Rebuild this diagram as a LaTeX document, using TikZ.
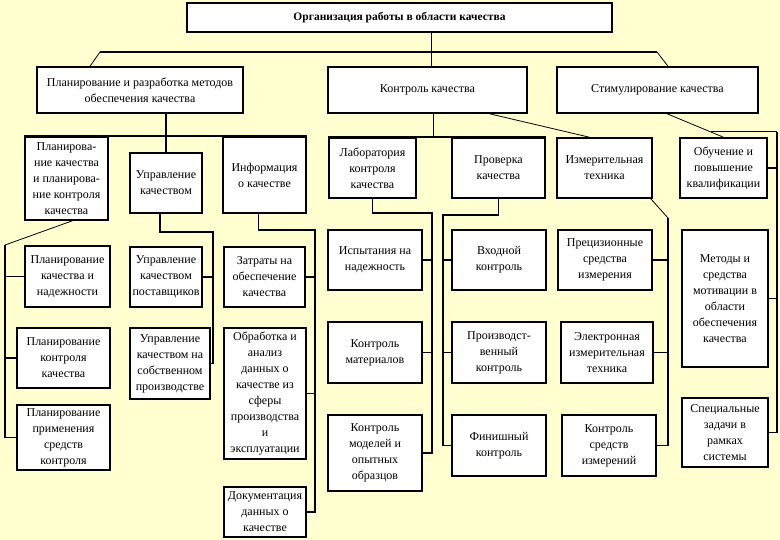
\documentclass[tikz,border=0pt]{standalone}
\usepackage{fontspec}
\setmainfont{Liberation Serif}
\usetikzlibrary{positioning,calc}
\definecolor{paper}{RGB}{255,255,208}
\tikzset{
  blk/.style={rectangle,draw=black,line width=1.5pt,fill=white,
              align=center,inner sep=1pt,font=\fontsize{12}{16}\selectfont},
  sz/.style 2 args={minimum width=#1,minimum height=#2},
  link/.style={line width=1.5pt},
  slant/.style={line width=0.8pt},
}
\begin{document}
\begin{tikzpicture}[x=1pt, y=-1pt]
\fill[paper] (0,0) rectangle (780,540);

% top and first level
\node[blk,sz={425pt}{29pt},font=\fontsize{11.5}{16}\selectfont\bfseries] (top) at (399.5,17.5) {Организация работы в области качества};
\node[blk,sz={206pt}{46pt}] (plan) at (140,90) {Планирование и разработка методов\\обеспечения качества};
\node[blk,sz={199pt}{46pt}] (ctrl) at (427.5,90) {Контроль качества};
\node[blk,sz={201pt}{46pt}] (stim) at (657.5,90) {Стимулирование качества};

% planning branch
\node[blk,sz={83pt}{83pt}] (p1) at (66.5,178.5) {Планирова-\\ние качества\\и планирова-\\ние контроля\\качества};
\node[blk,sz={72pt}{60pt}] (u1) at (166,183) {Управление\\качеством};
\node[blk,sz={83pt}{76pt}] (i1) at (264.5,175) {Информация\\о качестве};
\node[blk,sz={85pt}{61pt}] (p2) at (67.5,276.5) {Планирование\\качества и\\надежности};
\node[blk,sz={93pt}{60pt}] (p3) at (63.5,358) {Планирование\\контроля\\качества};
\node[blk,sz={93pt}{65pt}] (p4) at (63.5,437.5) {Планирование\\применения\\средств\\контроля};
\node[blk,sz={72pt}{60pt}] (u2) at (166,277) {Управление\\качеством\\поставщиков};
\node[blk,sz={80pt}{71pt}] (u3) at (170,363.5) {Управление\\качеством на\\собственном\\производстве};
\node[blk,sz={81pt}{60pt}] (i2) at (264.5,277) {Затраты на\\обеспечение\\качества};
\node[blk,sz={82pt}{131pt}] (i3) at (265,393.5) {Обработка и\\анализ\\данных о\\качестве из\\сферы\\производства\\и\\эксплуатации};
\node[blk,sz={82pt}{50pt}] (i4) at (265,512) {Документация\\данных о\\качестве};

% control branch
\node[blk,sz={87pt}{60pt}] (l1) at (372.5,168) {Лаборатория\\контроля\\качества};
\node[blk,sz={93pt}{60pt}] (c1) at (498.5,168) {Проверка\\качества};
\node[blk,sz={95pt}{60pt}] (m1) at (604.5,168) {Измерительная\\техника};
\node[blk,sz={94pt}{60pt}] (l2) at (375,260) {Испытания на\\надежность};
\node[blk,sz={94pt}{61pt}] (l3) at (375,352.5) {Контроль\\материалов};
\node[blk,sz={94pt}{76pt}] (l4) at (375,453) {Контроль\\моделей и\\опытных\\образцов};
\node[blk,sz={94pt}{60pt}] (c2) at (499,260) {Входной\\контроль};
\node[blk,sz={94pt}{61pt}] (c3) at (499,352.5) {Производст-\\венный\\контроль};
\node[blk,sz={94pt}{61pt}] (c4) at (499,445.5) {Финишный\\контроль};
\node[blk,sz={94pt}{60pt}] (m2) at (605,260) {Прецизионные\\средства\\измерения};
\node[blk,sz={92pt}{61pt}] (m3) at (607,352.5) {Электронная\\измерительная\\техника};
\node[blk,sz={94pt}{61pt}] (m4) at (609,445.5) {Контроль\\средств\\измерений};

% motivation branch
\node[blk,sz={87pt}{60pt}] (s1) at (723.5,168) {Обучение и\\повышение\\квалификации};
\node[blk,sz={86pt}{137pt}] (s2) at (725,298.5) {Методы и\\средства\\мотивации в\\области\\обеспечения\\качества};
\node[blk,sz={86pt}{69pt}] (s3) at (725,432.5) {Специальные\\задачи в\\рамках\\системы};

% first level links
\coordinate (bl) at (100,52);
\coordinate (br) at (657,52);
\draw[link] (bl) -- (br);
\draw[slant] (bl) -- ([xshift=-50pt]plan.north);
\draw[slant] (br) -- ([xshift=10.5pt]stim.north);
\draw[slant] ([xshift=3.5pt]ctrl.north |- top.south) -- ([xshift=3.5pt]ctrl.north);

% planning links
\draw[link] (p1.north west) -- (i1.north east);
\draw[link] (plan.south -| u1.north) -- (u1.north);
\coordinate (pl) at (5,245);
\draw[slant] ([xshift=6pt]p1.south) -- (pl);
\draw[link] (pl) |- (p4.west);
\draw[link] (pl |- p2.west) -- (p2.west);
\draw[link] (pl |- p3.west) -- (p3.west);
\coordinate (ur) at (213,232);
\draw[link] ([xshift=-6pt]u1.south) |- (ur) |- (u3.east);
\draw[link] (ur |- u2.east) -- (u2.east);
\coordinate (ir) at (315,230);
\draw[link] ([xshift=-6pt]i1.south) |- (ir) |- (i4.east);
\draw[link] (ir |- i2.east) -- (i2.east);
\draw[link] (ir |- i3.east) -- (i3.east);

% control links
\draw[link] (l1.north west) -- (c1.north east);
\draw[slant] ([xshift=6pt]ctrl.south) -- ([xshift=6pt]ctrl.south |- l1.north);
\draw[slant] ([xshift=62pt]ctrl.south) -- ([xshift=-15pt]m1.north);
\coordinate (lr) at (432,213);
\draw[link] (l1.south) |- (lr) |- (l4.east);
\draw[link] (lr |- l2.east) -- (l2.east);
\draw[link] (lr |- l3.east) -- (l3.east);
\coordinate (cl) at (443,215);
\draw[link] (c1.south) |- (cl) |- (c4.west);
\draw[link] (cl |- c2.west) -- (c2.west);
\draw[link] (cl |- c3.west) -- (c3.west);
\coordinate (mr) at (668,218);
\draw[slant] ([xshift=-2pt]m1.south east) -- (mr);
\draw[link] (mr) |- (m4.east);
\draw[link] (mr |- m2.east) -- (m2.east);
\draw[link] (mr |- m3.east) -- (m3.east);

% motivation links
\draw[slant] ([xshift=9.5pt]stim.south) -- (s1.north);
\coordinate (sk) at ($([xshift=9.5pt]stim.south)!0.77!(s1.north)$);
\coordinate (sr) at (777,0);
\draw[slant] (sk) -- (sr |- sk);
\draw[link] (sr |- sk) |- (s3.east);
\draw[link] (sr |- s1.east) -- (s1.east);
\draw[link] (sr |- s2.east) -- (s2.east);
\end{tikzpicture}
\end{document}
